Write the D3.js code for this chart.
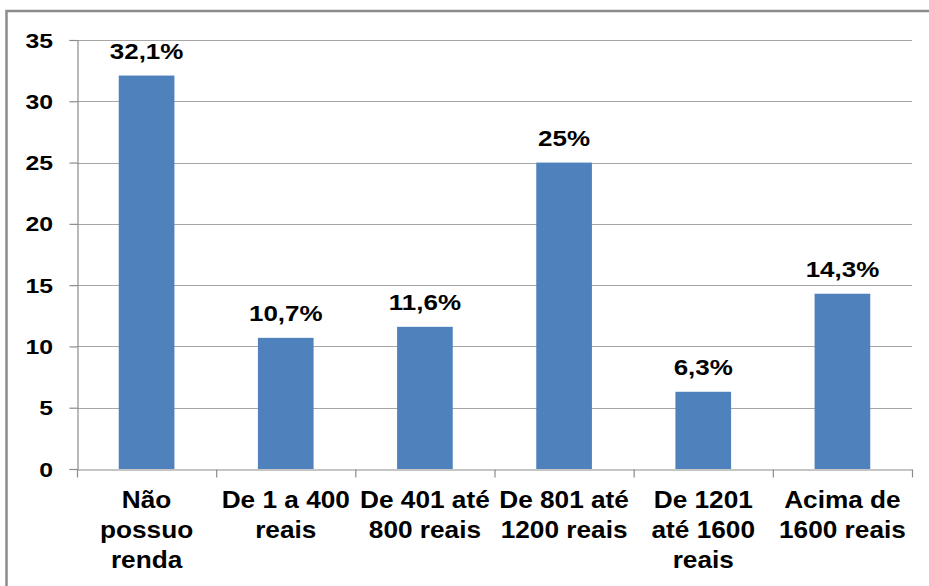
<!DOCTYPE html>
<html>
<head>
<meta charset="utf-8">
<script src="https://cdn.jsdelivr.net/npm/d3@7"></script>
<style>
html,body{margin:0;padding:0;background:#fff;}
svg{display:block;}
text{font-family:"Liberation Sans",Arial,sans-serif;font-weight:bold;fill:#000;}
</style>
</head>
<body>
<svg id="chart" width="929" height="586"></svg>
<script>
const categories = [
  ["Não","possuo","renda"],
  ["De 1 a 400","reais"],
  ["De 401 até","800 reais"],
  ["De 801 até","1200 reais"],
  ["De 1201","até 1600","reais"],
  ["Acima de","1600 reais"]
];
const values = [32.1, 10.7, 11.6, 25, 6.3, 14.3];
const valueLabels = ["32,1%","10,7%","11,6%","25%","6,3%","14,3%"];
const yTicks = [0,5,10,15,20,25,30,35];

const svg = d3.select("#chart");
const W = 929, H = 586;
const m = {left:77, right:929-912, top:40, bottom:586-469};
const axisColor = "#8c8c8c";

// frame
svg.append("rect").attr("x",6.5).attr("y",11).attr("width",940).attr("height",600)
  .attr("fill","none").attr("stroke","#8c8c8c").attr("stroke-width",2.5);

const x = d3.scaleBand().domain(d3.range(values.length)).range([m.left, W-m.right]).paddingInner(0.6).paddingOuter(0.3);
const y = d3.scaleLinear().domain([0,35]).range([H-m.bottom, m.top]);

// gridlines
svg.append("g").selectAll("line").data(yTicks.filter(d=>d>0)).join("line")
  .attr("x1",m.left).attr("x2",W-m.right)
  .attr("y1",d=>Math.round(y(d))+0.5).attr("y2",d=>Math.round(y(d))+0.5)
  .attr("stroke","#a6a6a6").attr("stroke-width",1.2);

// bars
svg.append("g").selectAll("rect").data(values).join("rect")
  .attr("x",(d,i)=>x(i)).attr("width",x.bandwidth())
  .attr("y",d=>y(d)).attr("height",d=>y(0)-y(d))
  .attr("fill","#4f81bd");

// y axis (lines)
const yAxis = d3.axisLeft(y).tickValues(yTicks).tickSize(8).tickFormat("");
const gy = svg.append("g").attr("transform",`translate(${m.left+0.5},0)`).call(yAxis);
gy.select(".domain").attr("stroke",axisColor).attr("stroke-width",1.2);
gy.selectAll(".tick line").attr("stroke",axisColor).attr("stroke-width",1.2);
// y tick labels (horizontally stretched like the reference)
svg.append("g").selectAll("text").data(yTicks).join("text")
  .attr("transform",d=>`translate(53,${y(d)+7.5}) scale(1.18,1)`)
  .attr("text-anchor","end").attr("font-size",21)
  .text(d=>d);

// x axis line with category separators
const xb = d3.scaleLinear().domain([0,values.length]).range([m.left, W-m.right]);
const xAxis = d3.axisBottom(xb).tickValues(d3.range(values.length+1)).tickSize(8).tickFormat("").tickSizeOuter(0);
const gx = svg.append("g").attr("transform",`translate(0,${Math.round(y(0))+0.5})`).call(xAxis);
gx.select(".domain").attr("stroke",axisColor).attr("stroke-width",1.2);
gx.selectAll(".tick line").attr("stroke",axisColor).attr("stroke-width",1.2);

// category labels
const cg = svg.append("g").selectAll("g").data(categories).join("g")
  .attr("transform",(d,i)=>`translate(${x(i)+x.bandwidth()/2},508) scale(1.14,1)`);
cg.each(function(lines){
  d3.select(this).selectAll("text").data(lines).join("text")
    .attr("x",0).attr("y",(d,j)=>j*30)
    .attr("text-anchor","middle").attr("font-size",23)
    .text(d=>d);
});

// value labels
svg.append("g").selectAll("text").data(values).join("text")
  .attr("transform",(d,i)=>`translate(${x(i)+x.bandwidth()/2},${y(d)-16.5}) scale(1.18,1)`)
  .attr("text-anchor","middle").attr("font-size",22)
  .text((d,i)=>valueLabels[i]);
</script>
</body>
</html>
